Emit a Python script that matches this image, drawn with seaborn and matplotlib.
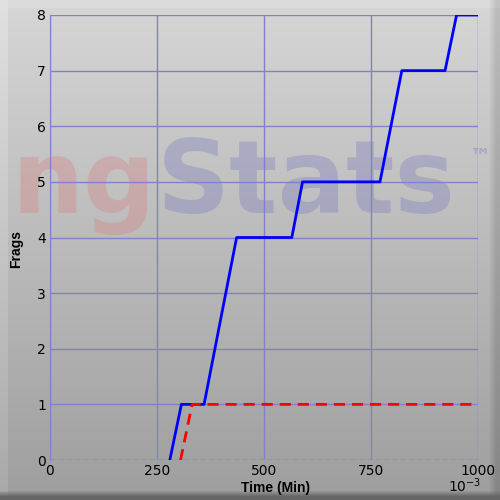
import numpy as np
import pandas as pd
import matplotlib
matplotlib.use("Agg")
import matplotlib.pyplot as plt
import seaborn as sns

# data (time in 1e-3 min, frags)
blue_time = [280, 307, 360, 436, 565, 590, 771, 822, 923, 950, 1000]
blue_frags = [0, 1, 1, 4, 4, 5, 5, 7, 7, 8, 8]
red_time = [305, 332, 1000]
red_frags = [0, 1, 1]
x_ticks = [0, 250, 500, 750, 1000]
y_ticks = [0, 1, 2, 3, 4, 5, 6, 7, 8]

blue_df = pd.DataFrame({"time": blue_time, "frags": blue_frags})
red_df = pd.DataFrame({"time": red_time, "frags": red_frags})

sns.set_style("white")
plt.rcParams["font.family"] = ["DejaVu Sans"]

fig = plt.figure(figsize=(5, 5), dpi=100)

# background panel: vertical gradient, light bevel top/left, soft shadow right/bottom
H, W = 500, 500
py, px = np.mgrid[0:H, 0:W].astype(float)
bg = 0.84 - 0.22 * (py / H)
bg = np.where(py < 8, 0.86, bg)
bg = np.where(px < 8, np.minimum(bg + 0.04, 0.88), bg)
right = np.clip((px - 488) / 8, 0, 1)
bottom = np.clip((py - 490) / 6, 0, 1)
bg = bg - 0.10 * right
bg = bg * (1 - bottom) + 0.40 * bottom
bgax = fig.add_axes([0, 0, 1, 1], zorder=-10)
bgax.imshow(np.dstack([bg, bg, bg]), aspect="auto", extent=[0, 1, 0, 1])
bgax.axis("off")

# watermark
wm_kw = dict(fontsize=73, fontweight="bold", alpha=0.35, ha="left",
             va="baseline", zorder=-5)
fig.text(0.022, 0.574, "ng", color="#d88080", **wm_kw)
fig.text(0.314, 0.574, "Stats", color="#7a7ac0", **wm_kw)
fig.text(0.94, 0.676, "\u2122", fontsize=15, fontweight="bold",
         color="#7a7ac0", alpha=0.4, ha="left", va="baseline", zorder=-5)

ax = fig.add_axes([0.1, 0.08, 0.856, 0.89])
ax.patch.set_alpha(0)

grid_c = "#8080cc"
ax.axhline(0, color="#40e0d0", lw=1, zorder=2)
ax.axhline(0, color="#e04040", lw=1, dashes=(4, 2), zorder=2)

sns.lineplot(data=blue_df, x="time", y="frags", color="#0000ff", lw=2,
             ax=ax, zorder=3)
sns.lineplot(data=red_df, x="time", y="frags", color="#ff0000", lw=2,
             ax=ax, zorder=4)
ax.lines[-1].set_dashes((4, 2.5))

ax.set_xlim(0, 1000)
ax.set_ylim(0, 8)
ax.set_xticks(x_ticks)
ax.set_yticks(y_ticks)
ax.grid(True, color=grid_c, lw=1, zorder=1)
ax.set_axisbelow(True)
for side in ["top", "bottom", "right"]:
    ax.spines[side].set_visible(False)
ax.spines["left"].set_color(grid_c)
ax.tick_params(length=0, labelsize=10, colors="black", pad=3)

lab_kw = dict(fontsize=10, fontweight="bold", color="black",
              family=["Liberation Sans"])
ax.set_xlabel("Time (Min)", **lab_kw)
ax.xaxis.set_label_coords(0.528, -0.048)
ax.set_ylabel("Frags", **lab_kw)
ax.yaxis.set_label_coords(-0.062, 0.474)
fig.text(0.93, 0.028, "10$^{-3}$", fontsize=10, color="black",
         ha="center", va="center")

fig.savefig("out.png", dpi=100)
